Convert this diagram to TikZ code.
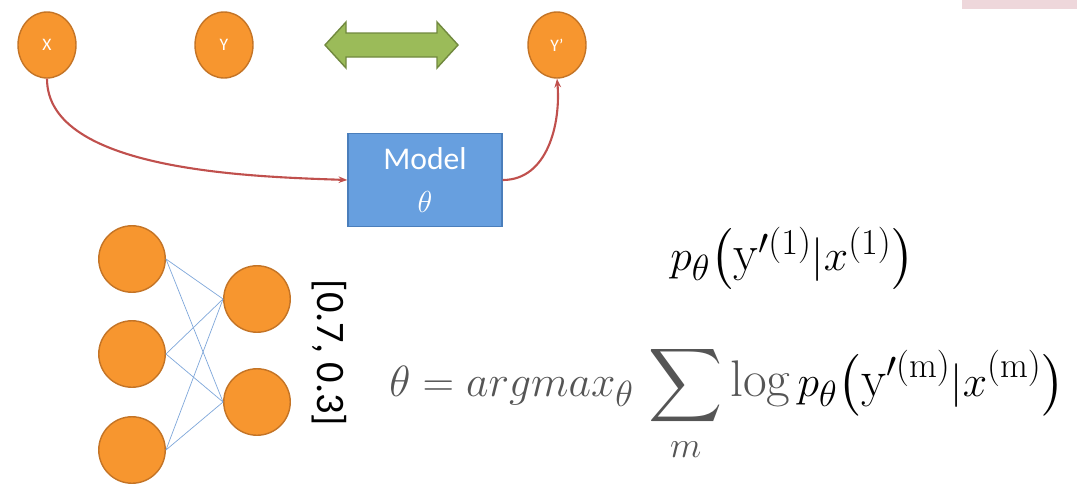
\documentclass[tikz,border=0pt]{standalone}
\usepackage{amsmath,amssymb}
\usepackage{fontspec}
\setsansfont{Carlito}
\usepackage{xcolor}
\usepackage{tikz}
\usetikzlibrary{positioning,shapes.geometric,arrows.meta}

\definecolor{unitfill}{HTML}{F7962F}
\definecolor{unitedge}{HTML}{C47426}
\definecolor{modelfill}{HTML}{679FDF}
\definecolor{modeledge}{HTML}{4A7EBB}
\definecolor{fatfill}{HTML}{9BBB59}
\definecolor{fatedge}{HTML}{71893F}
\definecolor{linkred}{HTML}{C0504D}
\definecolor{wirebl}{HTML}{7FA7DA}
\definecolor{mathgray}{HTML}{555555}
\definecolor{tabpink}{HTML}{EED7DB}

\begin{document}
\begin{tikzpicture}[
  x=0.02cm, y=-0.02cm,
  unit/.style={draw=unitedge, fill=unitfill, ellipse, thick, inner sep=0pt,
               minimum width=1.16cm, minimum height=1.32cm,
               text=white, font=\sffamily\fontsize{10}{12}\selectfont},
  neuron/.style={draw=unitedge, fill=unitfill, circle, thick, inner sep=0pt,
                 minimum size=1.33cm},
  model/.style={draw=modeledge, fill=modelfill, thick, align=center,
                minimum width=3.08cm, minimum height=1.86cm, text=white,
                font=\sffamily\fontsize{18}{24}\selectfont},
  link/.style={draw=linkred, very thick, -{Stealth[length=5pt]}},
  wire/.style={draw=wirebl, thin},
  fat/.style={draw=fatedge, fill=fatfill, thick}
]
\useasboundingbox (0,0) rectangle (1077,484);
\fill[tabpink] (962,0) rectangle (1077,9);

% top row
\node[unit] (x) at (47,45) {X};
\node[unit] (y) at (224,45) {Y};
\node[unit] (yp) at (557,45) {Y'};
\path[fat] (325,45) -- (346,22) -- (346,33) -- (437,33) -- (437,22)
  -- (458,45) -- (437,68) -- (437,57) -- (346,57) -- (346,68) -- cycle;

\node[model] (model) at (425,180) {Model\\$\theta$};
\draw[link] (x.south) to[out=-90,in=178,looseness=0.75] (model.west);
\draw[link] (model.east) to[out=0,in=-85] (yp.south);

% small network
\node[neuron] (in1) at (132,259) {};
\node[neuron] (in2) at (132,354) {};
\node[neuron] (in3) at (132,450) {};
\node[neuron] (out1) at (257,299) {};
\node[neuron] (out2) at (257,402) {};
\foreach \i in {1,2,3}
  \foreach \o in {1,2}
    \draw[wire] (in\i.east) -- (out\o.west);
\node[rotate=-90, font=\sffamily\fontsize{23}{26}\selectfont] (probs) at (329,353) {[0.7, 0.3]};

% objective
\node[anchor=base west, inner sep=0pt, font=\fontsize{29}{34}\selectfont] (single) at (670,270)
  {$p_\theta\bigl(\mathrm{y}'^{(1)}|x^{(1)}\bigr)$};
\node[anchor=base west, inner sep=0pt, text=mathgray, font=\fontsize{29.3}{34}\selectfont] (objective) at (389,396)
  {$\displaystyle \theta = argmax_\theta\, \sum_m \log {\color{black}p_\theta\bigl(\mathrm{y}'^{(\mathrm{m})}|x^{(\mathrm{m})}\bigr)}$};
\end{tikzpicture}
\end{document}
